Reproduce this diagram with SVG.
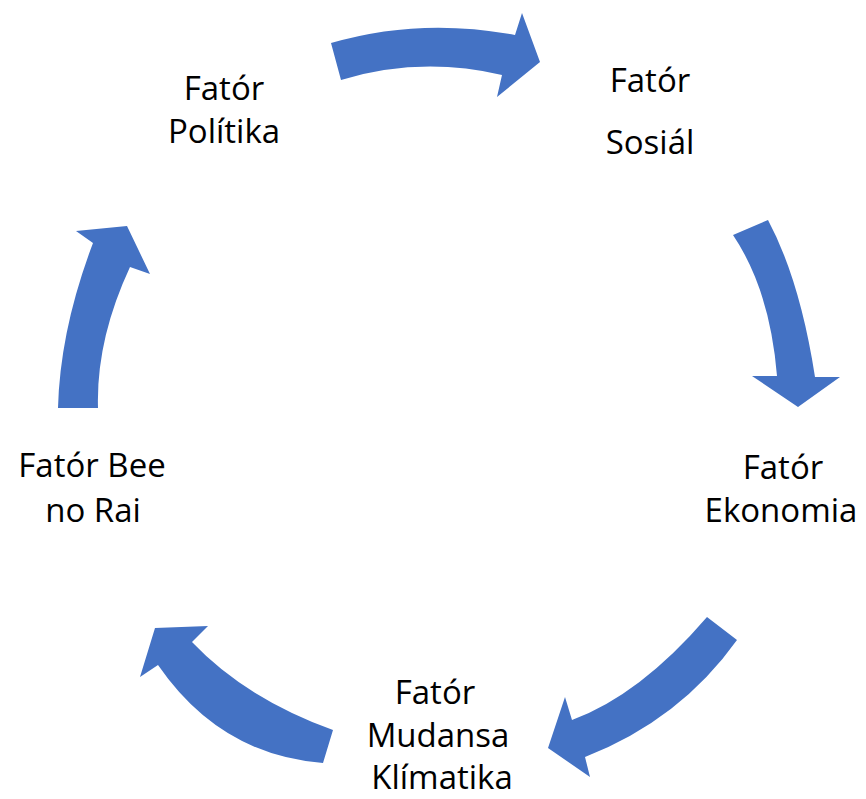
<svg xmlns="http://www.w3.org/2000/svg" width="866" height="799" viewBox="0 0 866 799">
<style>
.arrow{fill:#4472C4;stroke:none}
.lbl{font-family:"Open Sans","Noto Sans","DejaVu Sans",sans-serif;font-size:33px;fill:#000;text-anchor:middle}
</style>
<rect width="866" height="799" fill="#fff"/>
<g id="connectors">
<path class="arrow" d="M331,43 Q420,17 515,35 L522,13 L540,62 L497,97 L502,75 Q420,56 341,80 Z"/>
<path class="arrow" d="M768,220 Q800,280 815,377 L840,377 L798,407 L752,376 L777,376 Q770,290 733,235 Z"/>
<path class="arrow" d="M737,640 Q680,720 585,757 L590,777 L548,748 L565,697 L572,720 Q640,695 707,617 Z"/>
<path class="arrow" d="M333,730 Q245,698 192,642 L208,626 L155,628 L140,677 L158,665 Q220,755 323,763 Z"/>
<path class="arrow" d="M98,408 Q96,340 130,267 L150,274 L127,226 L76,231 L93,243 Q60,330 58,408 Z"/>
</g>
<g id="politika"><text class="lbl" x="224" y="100">Fatór</text><text class="lbl" x="224" y="143">Polítika</text></g>
<g id="sosial"><text class="lbl" x="650" y="92">Fatór</text><text class="lbl" x="650" y="154">Sosiál</text></g>
<g id="ekonomia"><text class="lbl" x="783" y="479">Fatór</text><text class="lbl" x="781" y="522">Ekonomia</text></g>
<g id="klimatika"><text class="lbl" x="435" y="704">Fatór</text><text class="lbl" x="438" y="747">Mudansa</text><text class="lbl" x="442" y="789">Klímatika</text></g>
<g id="beenorai"><text class="lbl" x="92" y="477">Fatór Bee</text><text class="lbl" x="93" y="522">no Rai</text></g>
</svg>
